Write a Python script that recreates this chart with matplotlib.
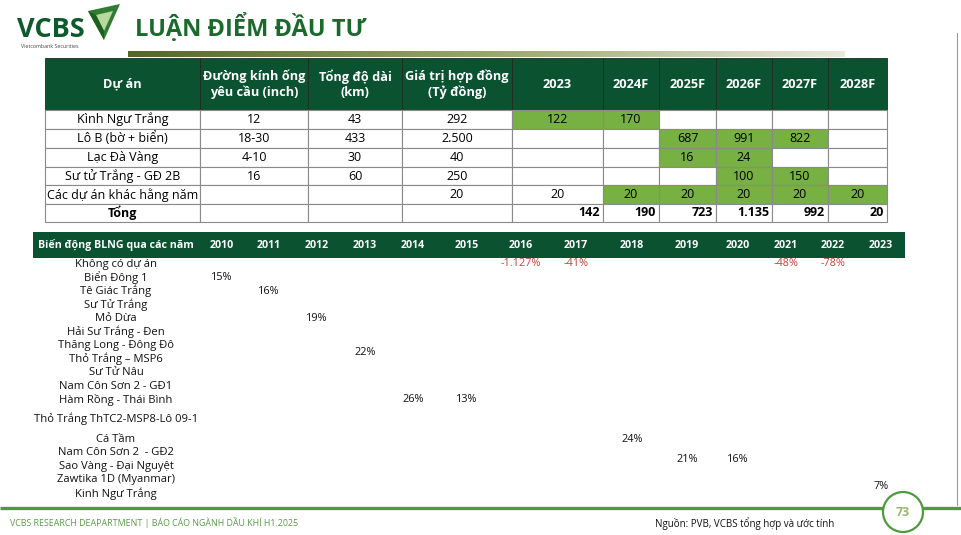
import numpy as np
import matplotlib.pyplot as plt
from matplotlib.patches import Rectangle, Polygon, Circle
from matplotlib.colors import LinearSegmentedColormap

plt.rcParams['font.family'] = ['Open Sans', 'DejaVu Sans']

# ---- dữ liệu bảng trên
hdr_top = ["Dự án", "Đường kính ống\nyêu cầu (inch)", "Tổng độ dài\n(km)", "Giá trị hợp đồng\n(Tỷ đồng)",
           "2023", "2024F", "2025F", "2026F", "2027F", "2028F"]
projects = ["Kình Ngư Trắng", "Lô B (bờ + biển)", "Lạc Đà Vàng", "Sư tử Trắng - GĐ 2B", "Các dự án khác hằng năm"]
diameters = ["12", "18-30", "4-10", "16", ""]
lengths = ["43", "433", "30", "60", ""]
contract = ["292", "2.500", "40", "250", "20"]
schedule = [["122", "170", "", "", "", ""],
            ["", "", "687", "991", "822", ""],
            ["", "", "16", "24", "", ""],
            ["", "", "", "100", "150", ""],
            ["20", "20", "20", "20", "20", "20"]]
highlight = [[1, 1, 0, 0, 0, 0],
             [0, 0, 1, 1, 1, 0],
             [0, 0, 1, 1, 0, 0],
             [0, 0, 0, 1, 1, 0],
             [0, 1, 1, 1, 1, 1]]
totals = ["142", "190", "723", "1.135", "992", "20"]

# ---- dữ liệu bảng dưới
blng_years = ["2010", "2011", "2012", "2013", "2014", "2015", "2016",
              "2017", "2018", "2019", "2020", "2021", "2022", "2023"]
blng_projects = ["Không có dự án", "Biển Đông 1", "Tê Giác Trắng", "Sư Tử Trắng", "Mỏ Dừa",
                 "Hải Sư Trắng - Đen", "Thăng Long - Đông Đô", "Thỏ Trắng – MSP6", "Sư Tử Nâu",
                 "Nam Côn Sơn 2 - GĐ1", "Hàm Rồng - Thái Bình", "Thỏ Trắng ThTC2-MSP8-Lô 09-1",
                 "Cá Tầm", "Nam Côn Sơn 2  - GĐ2", "Sao Vàng - Đại Nguyệt", "Zawtika 1D (Myanmar)",
                 "Kinh Ngư Trắng"]
blng_labels = ["-1.127%", "-41%", "-48%", "-78%", "15%", "16%", "19%", "22%",
               "26%", "13%", "24%", "21%", "16%", "7%"]
blng_label_year = ["2016", "2017", "2021", "2022", "2010", "2011", "2012", "2013",
                   "2014", "2015", "2018", "2019", "2020", "2023"]
blng_label_row = [0, 0, 0, 0, 1, 2, 4, 6.5, 10, 10, 12, 13.5, 13.5, 15.5]

DARK = "#0b5230"
LIGHT = "#77b043"
GRID = "#8a8a8a"
RED = "#c8423a"
FOOT = "#4f9a3f"

fig = plt.figure(figsize=(9.61, 5.35), dpi=100)
ax = fig.add_axes([0, 0, 1, 1])
ax.set_xlim(0, 961)
ax.set_ylim(535, 0)
ax.axis('off')

# ---- logo + tiêu đề
ax.text(17, 30, "VCBS", fontsize=19.5, fontweight='bold', color="#0e5a2c", va='center', ha='left')
ax.add_patch(Polygon([(88, 11), (120, 4), (104, 40)], closed=True, fc="#2f7d32", ec='none'))
ax.add_patch(Polygon([(96, 15), (113, 11), (104, 31)], closed=True, fc="#b9d8a0", ec='none'))
ax.add_patch(Polygon([(88, 11), (96, 15), (104, 31), (104, 40)], closed=True, fc="#1d5e22", ec='none'))
ax.text(50, 46, "Vietcombank Securities", fontsize=3.8, color="#444444", ha='center', va='center')
ax.text(135, 28, "LUẬN ĐIỂM ĐẦU TƯ", fontsize=17, fontweight='bold', color="#1a6a2c", va='center', ha='left')

grad = np.linspace(0, 1, 256).reshape(1, -1)
cm = LinearSegmentedColormap.from_list("olive", ["#55662a", "#9aa56a", "#e9e9dc"])
ax.imshow(grad, cmap=cm, extent=(128, 845, 57, 51), aspect='auto', zorder=1)
ax.plot([957, 957], [33, 505], color="#9a9a9a", lw=0.8)

# ---- bảng trên
col_edges = [45, 200, 308, 402, 512, 603, 659, 716, 772, 828, 887]
row_edges = [58, 110, 129, 148, 167, 185, 204, 222]
fs_cell = 9

for j in range(len(hdr_top)):
    x0, x1 = col_edges[j], col_edges[j + 1]
    ax.add_patch(Rectangle((x0, row_edges[0]), x1 - x0, row_edges[1] - row_edges[0],
                           fc=DARK, ec="#1d2d22", lw=0.6, zorder=2))
    ax.text((x0 + x1) / 2, (row_edges[0] + row_edges[1]) / 2, hdr_top[j], color='white',
            fontsize=9.2, fontweight='bold', ha='center', va='center', linespacing=1.25, zorder=3)

for i in range(len(projects)):
    y0, y1 = row_edges[i + 1], row_edges[i + 2]
    yc = (y0 + y1) / 2
    left_cols = [projects[i], diameters[i], lengths[i], contract[i]]
    for j, txt in enumerate(left_cols):
        x0, x1 = col_edges[j], col_edges[j + 1]
        ax.add_patch(Rectangle((x0, y0), x1 - x0, y1 - y0, fc='white', ec=GRID, lw=0.8, zorder=2))
        ax.text((x0 + x1) / 2, yc, txt, fontsize=fs_cell, ha='center', va='center', zorder=3)
    for k, txt in enumerate(schedule[i]):
        x0, x1 = col_edges[4 + k], col_edges[5 + k]
        fc = LIGHT if highlight[i][k] else 'white'
        ax.add_patch(Rectangle((x0, y0), x1 - x0, y1 - y0, fc=fc, ec=GRID, lw=0.8, zorder=2))
        ax.text((x0 + x1) / 2, yc, txt, fontsize=fs_cell, ha='center', va='center', zorder=3)

y0, y1 = row_edges[-2], row_edges[-1]
yc = (y0 + y1) / 2
for j in range(4):
    x0, x1 = col_edges[j], col_edges[j + 1]
    ax.add_patch(Rectangle((x0, y0), x1 - x0, y1 - y0, fc='white', ec=GRID, lw=0.8, zorder=2))
ax.text((col_edges[0] + col_edges[1]) / 2, yc, "Tổng", fontsize=fs_cell, fontweight='bold',
        ha='center', va='center', zorder=3)
for k, txt in enumerate(totals):
    x0, x1 = col_edges[4 + k], col_edges[5 + k]
    ax.add_patch(Rectangle((x0, y0), x1 - x0, y1 - y0, fc='white', ec=GRID, lw=0.8, zorder=2))
    ax.text(x1 - 3, yc, txt, fontsize=fs_cell, fontweight='bold', ha='right', va='center', zorder=3)

# ---- bảng dưới
year_x = [222, 269, 317, 365, 413, 467, 521, 576, 632, 687, 738, 786, 833, 881]
ax.add_patch(Rectangle((33, 232), 905 - 33, 26, fc=DARK, ec='none', zorder=2))
ax.text(116, 245, "Biến động BLNG qua các năm", color='white', fontsize=7.7, fontweight='bold',
        ha='center', va='center', zorder=3)
for yr, x in zip(blng_years, year_x):
    ax.text(x, 245, yr, color='white', fontsize=7.7, fontweight='bold', ha='center', va='center', zorder=3)

# khoảng cách dòng (dòng ThTC2 cao hơn)
row_step = [13.6] * len(blng_projects)
row_step[10] = 19
row_step[11] = 20
row_y = 264 + np.concatenate([[0], np.cumsum(row_step[:-1])])

def y_of(r):
    lo = int(np.floor(r))
    frac = r - lo
    if frac == 0:
        return row_y[lo]
    return row_y[lo] + frac * (row_y[lo + 1] - row_y[lo])

for name, y in zip(blng_projects, row_y):
    ax.text(116, y, name, fontsize=8.1, ha='center', va='center', color='#111111')

for lab, yr, r in zip(blng_labels, blng_label_year, blng_label_row):
    x = year_x[blng_years.index(yr)]
    col = RED if lab.startswith('-') else '#111111'
    ax.text(x, y_of(r), lab, fontsize=7.8, ha='center', va='center', color=col)

# ---- chân trang
ax.plot([0, 961], [508, 508], color=FOOT, lw=2.4, solid_capstyle='butt')
ax.add_patch(Circle((903, 512), 20, fc='white', ec=FOOT, lw=1.6, zorder=4))
ax.text(903, 512, "73", fontsize=9, fontweight='bold', color="#9db86c", ha='center', va='center', zorder=5)
ax.text(10, 523, "VCBS RESEARCH DEAPARTMENT | BÁO CÁO NGÀNH DẦU KHÍ H1.2025", fontsize=6.4,
        color="#5b9a4b", ha='left', va='center')
ax.text(655, 524, "Nguồn: PVB, VCBS tổng hợp và ước tính", fontsize=7, color='#111111',
        ha='left', va='center')

fig.savefig("out.png", dpi=100)
